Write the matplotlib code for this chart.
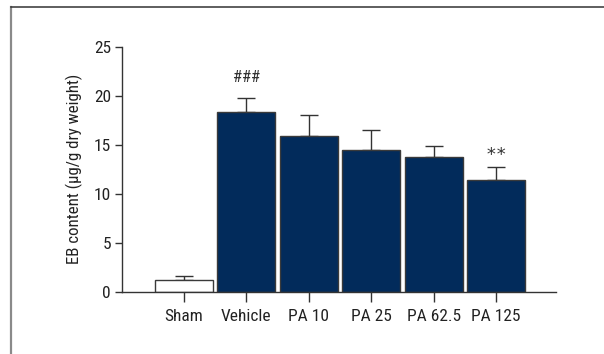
import matplotlib
matplotlib.use("Agg")
import matplotlib.pyplot as plt
from matplotlib.lines import Line2D

plt.rcParams['font.family'] = ['Roboto Condensed', 'DejaVu Sans']

groups = ["Sham", "Vehicle", "PA 10", "PA 25", "PA 62.5", "PA 125"]
means = [1.2, 18.35, 15.85, 14.5, 13.75, 11.45]
errors = [0.4, 1.45, 2.15, 2.05, 1.12, 1.3]
annotations = {"Vehicle": "###", "PA 125": "**"}
y_ticks = [0, 5, 10, 15, 20, 25]

fig = plt.figure(figsize=(6.04, 3.54), dpi=100)
ax = fig.add_axes([0.202, 0.176, 0.7185, 0.692])

face = ["white"] + ["#022b5b"] * (len(groups) - 1)
x = list(range(len(groups)))
ax.bar(x, means, width=0.93, color=face, edgecolor="#3a3a3a", linewidth=1.0, zorder=2)
ax.errorbar(x, means, yerr=[[0] * len(errors), errors], fmt="none",
            ecolor="#333333", elinewidth=1.0, capsize=6.5, capthick=1.0, zorder=1)

for i, g in enumerate(groups):
    if g in annotations:
        label = annotations[g]
        star = label.startswith("*")
        ax.text(i, means[i] + errors[i] + (1.15 if star else 2.1), label,
                ha="center", va="center", color="#333333",
                fontsize=13 if star else 12,
                family="DejaVu Sans Mono" if star else None)

ax.set_xlim(-0.99, 5.96)
ax.set_ylim(0, 25)
ax.set_yticks(y_ticks)
ax.set_xticks(x)
ax.set_xticklabels(groups)
ax.set_ylabel("EB content (μg/g dry weight)", fontsize=12.2, color="#222222", labelpad=8)

for s in ["top", "right"]:
    ax.spines[s].set_visible(False)
for s in ["left", "bottom"]:
    ax.spines[s].set_color("#333333")
    ax.spines[s].set_linewidth(1.0)
ax.tick_params(axis="y", length=5, width=1.0, color="#333333", labelsize=12.5,
               labelcolor="#222222", pad=3)
ax.tick_params(axis="x", length=7.5, width=1.0, color="#333333", labelsize=12.5,
               labelcolor="#222222", pad=5)

# panel frame: grey left edge, dark top edge
fig.add_artist(Line2D([11 / 604, 11 / 604], [0, 1 - 7 / 354], transform=fig.transFigure,
                      color="#8a8a8a", linewidth=1.6))
fig.add_artist(Line2D([10.5 / 604, 1], [1 - 7 / 354, 1 - 7 / 354], transform=fig.transFigure,
                      color="#333333", linewidth=1.1))

fig.savefig("out.png", dpi=100)
